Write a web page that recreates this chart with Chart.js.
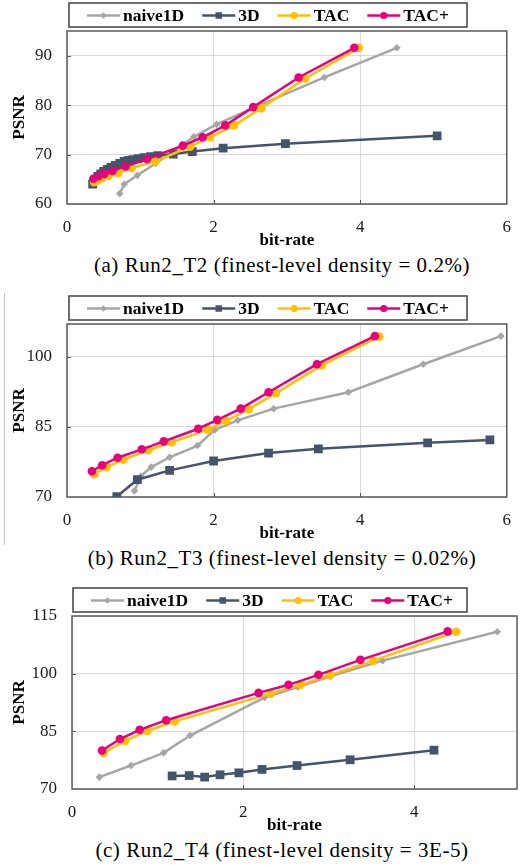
<!DOCTYPE html>
<html>
<head>
<meta charset="utf-8">
<script src="https://cdn.jsdelivr.net/npm/chart.js@4.4.0/dist/chart.umd.min.js"></script>
<style>
  body { margin: 0; background: #fff; }
  #page { position: relative; width: 524px; height: 865px; overflow: hidden; }
  .panel { position: absolute; left: 0; width: 524px; height: 290px; }
  .panel canvas { position: absolute; left: 0; top: 0; }
  .caption {
    position: absolute; left: 0; width: 564px; top: 252px;
    text-align: center; font-family: "Liberation Serif", serif;
    font-size: 21px; line-height: 26px; color: #000; letter-spacing: 0.55px;
  }
  #edge { position: absolute; left: 4px; top: 293px; width: 1px; height: 252px; background: #c8c8c8; }
</style>
</head>
<body>
<div id="page">
  <div class="panel" style="top:0px"><canvas id="chartA" width="524" height="252"></canvas>
    <div class="caption">(a) Run2_T2 (finest-level density = 0.2%)</div></div>
  <div class="panel" style="top:293px"><canvas id="chartB" width="524" height="252"></canvas>
    <div class="caption">(b) Run2_T3 (finest-level density = 0.02%)</div></div>
  <div class="panel" style="top:585px"><canvas id="chartC" width="524" height="252"></canvas>
    <div class="caption">(c) Run2_T4 (finest-level density = 3E-5)</div></div>
  <div id="edge"></div>
</div>
<script>
// series names and colours
const seriesNames = ['naive1D', '3D', 'TAC', 'TAC+'];

// (a) Run2_T2
const naiveA_x = [0.72, 0.78, 0.96, 1.21, 1.73, 2.04, 2.55, 3.51, 4.5];
const naiveA_y = [62.1, 64.0, 65.8, 68.2, 73.6, 76.1, 79.5, 85.6, 91.6];
const d3A_x = [0.35, 0.38, 0.42, 0.46, 0.5, 0.55, 0.6, 0.66, 0.72, 0.78, 0.84, 0.9, 0.97, 1.05, 1.14, 1.24, 1.45, 1.71, 2.13, 2.98, 5.05];
const d3A_y = [64.0, 64.9, 65.6, 66.1, 66.6, 67.0, 67.4, 67.8, 68.2, 68.6, 68.8, 69.0, 69.2, 69.4, 69.6, 69.8, 70.1, 70.6, 71.3, 72.2, 73.8];
const tacA_x = [0.37, 0.42, 0.48, 0.57, 0.7, 0.88, 1.2, 1.68, 1.95, 2.28, 2.65, 3.25, 3.98];
const tacA_y = [64.4, 64.8, 65.2, 65.7, 66.3, 67.3, 68.6, 71.6, 73.5, 75.9, 79.4, 85.4, 91.6];
const tacPlusA_x = [0.36, 0.43, 0.51, 0.62, 0.8, 1.09, 1.58, 1.85, 2.16, 2.54, 3.16, 3.92];
const tacPlusA_y = [65.1, 65.6, 66.1, 66.7, 67.6, 69.1, 71.8, 73.5, 75.9, 79.6, 85.6, 91.6];
const xTicksA = [0, 2, 4, 6];
const yTicksA = [60, 70, 80, 90];

// (b) Run2_T3
const naiveB_x = [0.92, 1.01, 1.15, 1.4, 1.78, 2.02, 2.33, 2.82, 3.84, 4.86, 5.92];
const naiveB_y = [71.3, 74.5, 76.4, 78.5, 81.0, 84.4, 86.4, 88.9, 92.4, 98.4, 104.4];
const d3B_x = [0.68, 0.96, 1.4, 2.0, 2.75, 3.43, 4.92, 5.77];
const d3B_y = [70.1, 73.7, 75.7, 77.7, 79.4, 80.3, 81.6, 82.2];
const tacB_x = [0.37, 0.54, 0.77, 1.11, 1.43, 1.92, 2.17, 2.48, 2.85, 3.48, 4.26];
const tacB_y = [74.9, 76.4, 78.0, 80.0, 81.7, 84.4, 86.3, 88.8, 92.2, 98.2, 104.3];
const tacPlusB_x = [0.34, 0.48, 0.69, 1.02, 1.32, 1.79, 2.05, 2.37, 2.75, 3.41, 4.2];
const tacPlusB_y = [75.5, 76.8, 78.4, 80.2, 81.9, 84.6, 86.5, 88.9, 92.4, 98.4, 104.4];
const xTicksB = [0, 2, 4, 6];
const yTicksB = [70, 85, 100];

// (c) Run2_T4
const naiveC_x = [0.32, 0.69, 1.07, 1.38, 2.25, 2.64, 3.02, 3.63, 4.97];
const naiveC_y = [73.1, 76.1, 79.4, 83.9, 93.8, 96.5, 99.3, 103.4, 110.9];
const d3C_x = [1.17, 1.37, 1.55, 1.73, 1.95, 2.22, 2.63, 3.25, 4.23];
const d3C_y = [73.4, 73.5, 73.1, 73.7, 74.2, 75.1, 76.1, 77.6, 80.1];
const tacC_x = [0.37, 0.62, 0.88, 1.2, 2.32, 2.67, 3.01, 3.52, 4.49];
const tacC_y = [79.4, 82.5, 85.1, 87.6, 94.8, 97.1, 99.6, 103.4, 110.9];
const tacPlusC_x = [0.35, 0.56, 0.79, 1.1, 2.18, 2.53, 2.88, 3.37, 4.39];
const tacPlusC_y = [80.0, 83.0, 85.4, 87.9, 95.0, 97.1, 99.7, 103.6, 111.0];
const xTicksC = [0, 2, 4];
const yTicksC = [70, 85, 100, 115];

const SERIF = '"Liberation Serif", "Times New Roman", serif';
const styles = [
  { color: '#a6a6a6', pointStyle: 'rectRot', radius: 3.8, legendRadius: 3.2, order: 4 },
  { color: '#44546a', pointStyle: 'rect', radius: 6.2, legendRadius: 4.6, order: 3 },
  { color: '#ffc000', pointStyle: 'circle', radius: 4.3, legendRadius: 3.6, order: 2 },
  { color: '#e6007e', pointStyle: 'circle', radius: 4.3, legendRadius: 3.6, order: 1 }
];

function toPoints(xs, ys) {
  return xs.map((x, i) => ({ x: x, y: ys[i] }));
}

// frame around plot area + short inside tick marks
const framePlugin = {
  id: 'frame',
  beforeDatasetsDraw(chart) {
    const { ctx, chartArea: a, scales } = chart;
    ctx.save();
    ctx.strokeStyle = '#595959';
    ctx.lineWidth = 1;
    scales.x.ticks.forEach(t => {
      const px = Math.round(scales.x.getPixelForValue(t.value)) + 0.5;
      if (px < a.left + 2 || px > a.right - 2) return;
      ctx.beginPath(); ctx.moveTo(px, a.bottom); ctx.lineTo(px, a.bottom - 4); ctx.stroke();
    });
    scales.y.ticks.forEach(t => {
      const py = Math.round(scales.y.getPixelForValue(t.value)) + 0.5;
      if (py < a.top + 2 || py > a.bottom - 2) return;
      ctx.beginPath(); ctx.moveTo(a.left, py); ctx.lineTo(a.left + 4, py); ctx.stroke();
    });
    ctx.lineWidth = 1.5;
    ctx.strokeRect(a.left, a.top, a.right - a.left, a.bottom - a.top);
    ctx.restore();
  }
};

// boxed legend with line + marker samples
const boxLegendPlugin = {
  id: 'boxLegend',
  afterDraw(chart, args, opts) {
    const ctx = chart.ctx;
    ctx.save();
    ctx.lineWidth = 1.5;
    ctx.strokeStyle = '#404040';
    ctx.strokeRect(opts.left, 3, opts.right - opts.left, 24);
    ctx.font = 'bold 17.5px ' + SERIF;
    ctx.textBaseline = 'middle';
    let x = opts.left + 18;
    const y = 15.5;
    chart.data.datasets.forEach((ds, i) => {
      const st = styles[i];
      ctx.strokeStyle = st.color;
      ctx.lineWidth = 2.5;
      ctx.beginPath(); ctx.moveTo(x, y); ctx.lineTo(x + 33, y); ctx.stroke();
      ctx.fillStyle = st.color;
      ctx.lineWidth = 0;
      Chart.helpers.drawPoint(ctx, { pointStyle: st.pointStyle, radius: st.legendRadius, rotation: 0, borderWidth: 0 }, x + 16.5, y);
      ctx.fillStyle = '#000';
      ctx.fillText(ds.label, x + 36, y + 1);
      x += 36 + ctx.measureText(ds.label).width + 18;
    });
    ctx.restore();
  }
};

function makeChart(id, series, cfg) {
  const datasets = series.map((s, i) => ({
    label: seriesNames[i],
    data: toPoints(s[0], s[1]),
    borderColor: styles[i].color,
    backgroundColor: styles[i].color,
    pointBackgroundColor: styles[i].color,
    pointBorderColor: styles[i].color,
    pointBorderWidth: 0,
    pointStyle: styles[i].pointStyle,
    pointRadius: styles[i].radius,
    borderWidth: 2.5,
    tension: 0,
    order: styles[i].order
  }));

  const tickFont = { family: SERIF, size: 17 };
  const titleFont = { family: SERIF, size: 17, weight: 'bold' };

  return new Chart(document.getElementById(id), {
    type: 'line',
    data: { datasets: datasets },
    plugins: [framePlugin, boxLegendPlugin],
    options: {
      responsive: false,
      animation: false,
      devicePixelRatio: 1,
      layout: { padding: { top: 31, right: 7, left: 0, bottom: 0 } },
      plugins: {
        legend: { display: false },
        tooltip: { enabled: false },
        boxLegend: { left: cfg.legendLeft, right: 467 }
      },
      scales: {
        x: {
          type: 'linear',
          min: 0,
          max: cfg.xMax,
          afterBuildTicks: s => { s.ticks = cfg.xTicks.map(v => ({ value: v })); },
          afterFit: s => { s.height = 48; },
          grid: { color: '#d9d9d9', lineWidth: 1, drawTicks: false },
          border: { display: false },
          ticks: { font: tickFont, color: '#1a1a1a', padding: 13, maxRotation: 0 },
          title: { display: true, text: 'bit-rate', font: titleFont, color: '#000', padding: { top: 0, bottom: 1 } }
        },
        y: {
          type: 'linear',
          min: cfg.yMin,
          max: cfg.yMax,
          afterBuildTicks: s => { s.ticks = cfg.yTicks.map(v => ({ value: v })); },
          afterFit: s => { s.width = cfg.yWidth; },
          grid: { color: '#d9d9d9', lineWidth: 1, drawTicks: false },
          border: { display: false },
          ticks: { font: tickFont, color: '#1a1a1a', padding: 15 },
          title: { display: true, text: 'PSNR', font: titleFont, color: '#000', padding: { top: 9, bottom: 0 } }
        }
      }
    }
  });
}

makeChart('chartA', [
  [naiveA_x, naiveA_y], [d3A_x, d3A_y], [tacA_x, tacA_y], [tacPlusA_x, tacPlusA_y]
], { xMax: 6, xTicks: xTicksA, yMin: 60, yMax: 95, yTicks: yTicksA, yWidth: 67, legendLeft: 69 });

makeChart('chartB', [
  [naiveB_x, naiveB_y], [d3B_x, d3B_y], [tacB_x, tacB_y], [tacPlusB_x, tacPlusB_y]
], { xMax: 6, xTicks: xTicksB, yMin: 70, yMax: 107, yTicks: yTicksB, yWidth: 67, legendLeft: 69 });

makeChart('chartC', [
  [naiveC_x, naiveC_y], [d3C_x, d3C_y], [tacC_x, tacC_y], [tacPlusC_x, tacPlusC_y]
], { xMax: 5.2, xTicks: xTicksC, yMin: 70, yMax: 115, yTicks: yTicksC, yWidth: 72, legendLeft: 73 });
</script>
</body>
</html>
